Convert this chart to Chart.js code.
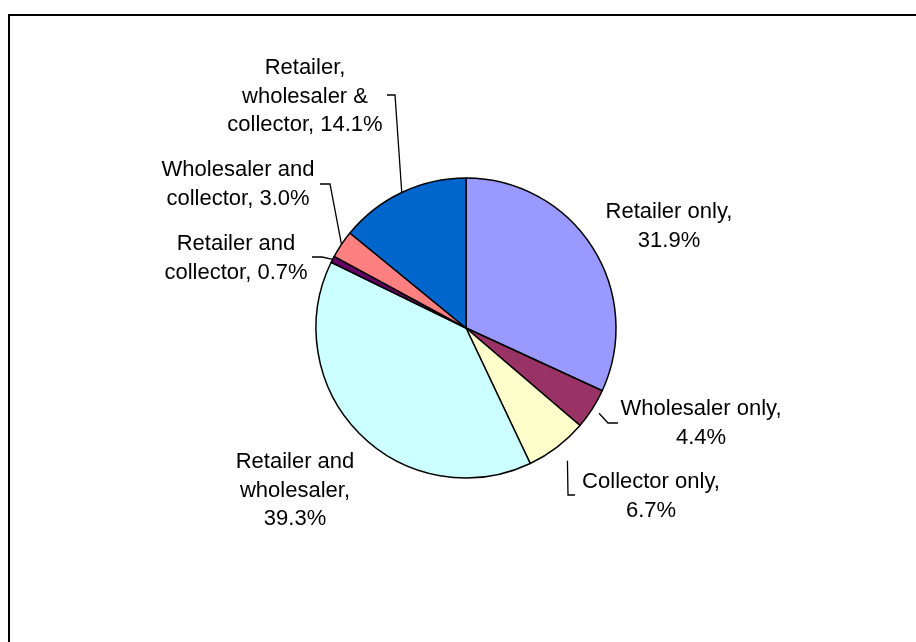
<!DOCTYPE html>
<html>
<head>
<meta charset="utf-8">
<script src="https://cdn.jsdelivr.net/npm/chart.js@4.4.0/dist/chart.umd.min.js"></script>
<style>
html, body { margin:0; padding:0; background:#fff; overflow:hidden; }
#frame { position:absolute; left:8px; top:14px; width:1000px; height:1000px; border:2px solid #000; }
#chartCanvas { position:absolute; left:0; top:0; }
</style>
</head>
<body>
<div id="frame"></div>
<canvas id="chartCanvas" width="916" height="642"></canvas>
<script>
const categories = ['Retailer only', 'Wholesaler only', 'Collector only', 'Retailer and wholesaler',
                    'Retailer and collector', 'Wholesaler and collector', 'Retailer, wholesaler & collector'];
const shares = [31.9, 4.4, 6.7, 39.3, 0.7, 3.0, 14.1];
const sliceColors = ['#9999FF', '#993366', '#FFFFCC', '#CCFFFF', '#660066', '#FF8080', '#0066CC'];

// where each label sits: centre x, first baseline, wrap width
const labelPos = [
    {x: 669, y: 218, wrap: 135},
    {x: 701, y: 415, wrap: 170},
    {x: 651, y: 488, wrap: 145},
    {x: 295, y: 468, wrap: 125},
    {x: 236, y: 250, wrap: 150},
    {x: 238, y: 176, wrap: 160},
    {x: 305, y: 74,  wrap: 170}
];
// leader lines: gap out from the pie edge, then the bend points
const leaders = [
    null,
    {off: 8,  pts: [[608, 423], [618, 423]]},
    {off: 17, pts: [[568, 495], [575, 495]]},
    null,
    {off: 0,  pts: [[322, 257], [312, 257]]},
    {off: 0,  pts: [[330, 184], [320, 184]]},
    {off: 0,  pts: [[395, 95], [387, 95]]}
];

function wrapText(ctx, text, width) {
    let words = text.split(' ');
    let lines = [];
    let cur = '';
    for (let w of words) {
        let test = cur ? cur + ' ' + w : w;
        if (cur && ctx.measureText(test).width > width) {
            lines.push(cur);
            cur = w;
        } else {
            cur = test;
        }
    }
    if (cur) lines.push(cur);
    return lines;
}

const pieLabels = {
    id: 'pieLabels',
    afterDatasetsDraw(chart) {
        const ctx = chart.ctx;
        const arcs = chart.getDatasetMeta(0).data;
        ctx.save();
        ctx.font = '22px "Liberation Sans", Arial, sans-serif';
        ctx.fillStyle = '#000';
        ctx.textAlign = 'center';
        ctx.textBaseline = 'alphabetic';
        arcs.forEach(function (arc, i) {
            let text = categories[i] + ', ' + shares[i].toFixed(1) + '%';
            let lines = wrapText(ctx, text, labelPos[i].wrap);
            lines.forEach(function (line, k) {
                ctx.fillText(line, labelPos[i].x, labelPos[i].y + k * 28.5);
            });
            let lead = leaders[i];
            if (lead) {
                let p = arc.getProps(['x', 'y', 'startAngle', 'endAngle', 'outerRadius'], true);
                let a = (p.startAngle + p.endAngle) / 2;
                let r = p.outerRadius + lead.off;
                ctx.beginPath();
                ctx.moveTo(p.x + Math.cos(a) * r, p.y + Math.sin(a) * r);
                lead.pts.forEach(function (pt) { ctx.lineTo(pt[0], pt[1]); });
                ctx.strokeStyle = '#000';
                ctx.lineWidth = 1.3;
                ctx.stroke();
            }
        });
        ctx.restore();
    }
};

new Chart(document.getElementById('chartCanvas').getContext('2d'), {
    type: 'pie',
    data: {
        labels: categories,
        datasets: [{
            data: shares,
            backgroundColor: sliceColors,
            borderColor: '#000',
            borderWidth: 1.5
        }]
    },
    options: {
        responsive: false,
        animation: false,
        radius: 150,
        layout: {padding: {left: 316, right: 300, top: 178, bottom: 164}},
        plugins: {legend: {display: false}, tooltip: {enabled: false}}
    },
    plugins: [pieLabels]
});
</script>
</body>
</html>
